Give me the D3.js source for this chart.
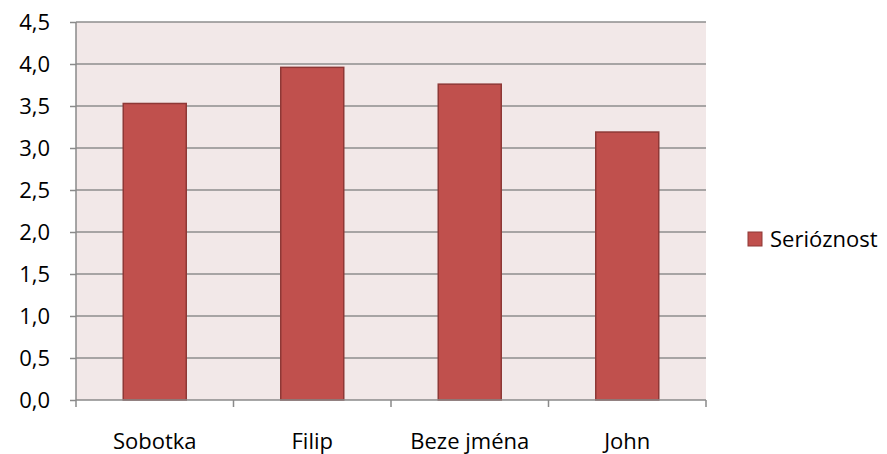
<!DOCTYPE html>
<html><head><meta charset="utf-8">
<script src="https://cdn.jsdelivr.net/npm/d3@7/dist/d3.min.js"></script>
<style>body{margin:0;background:#fff;} svg{display:block;} text{font-family:"Open Sans",sans-serif;fill:#000;}</style>
</head><body>
<svg id="c" width="887" height="454"></svg>
<script>
const categories = ["Sobotka", "Filip", "Beze jména", "John"];
const values = [3.53, 3.96, 3.76, 3.19];
const seriesName = "Serióznost";
const yTicks = [0, 0.5, 1, 1.5, 2, 2.5, 3, 3.5, 4, 4.5];

const svg = d3.select("#c");
const L = 76, R = 706, T = 22, B = 400;
const x = d3.scaleBand().domain(categories).range([L, R]).paddingInner(0.6).paddingOuter(0.3);
const y = d3.scaleLinear().domain([0, 4.5]).range([B, T]);
const fmt = d => d.toFixed(1).replace(".", ",");

svg.append("rect").attr("x", L).attr("y", T).attr("width", R - L).attr("height", B - T).attr("fill", "#f2e8e8");

// gridlines
svg.append("g").selectAll("line").data(yTicks.filter(d => d > 0)).join("line")
  .attr("x1", L).attr("x2", R).attr("y1", d => y(d)).attr("y2", d => y(d))
  .attr("stroke", "#8e8e8e").attr("stroke-width", 1.5);

// bars
svg.append("g").selectAll("rect").data(categories).join("rect")
  .attr("x", d => x(d)).attr("width", x.bandwidth())
  .attr("y", (d, i) => y(values[i])).attr("height", (d, i) => B - y(values[i]))
  .attr("fill", "#c0504d").attr("stroke", "#8e3836").attr("stroke-width", 1.5);

// y axis
const ya = svg.append("g").attr("transform", `translate(${L},0)`)
  .call(d3.axisLeft(y).tickValues(yTicks).tickFormat(fmt).tickSize(6).tickPadding(20));
ya.select(".domain").attr("stroke", "#8a8a8a").attr("stroke-width", 1.5).attr("d", `M0,${T}V${B}`);
ya.selectAll(".tick line").attr("stroke", "#8a8a8a").attr("stroke-width", 1.5);
ya.selectAll(".tick text").attr("font-size", 22).attr("font-family", "Open Sans").attr("fill", "#000");

// x axis
const xa = svg.append("g").attr("transform", `translate(0,${B})`);
xa.append("line").attr("x1", L).attr("x2", R).attr("stroke", "#8a8a8a").attr("stroke-width", 1.5);
const step = x.step();
const bounds = d3.range(categories.length + 1).map(i => L + i * step);
xa.selectAll(".tk").data(bounds).join("line").attr("class", "tk")
  .attr("x1", d => d).attr("x2", d => d).attr("y1", 0).attr("y2", 7)
  .attr("stroke", "#8a8a8a").attr("stroke-width", 1.5);
xa.selectAll("text").data(categories).join("text")
  .attr("x", d => x(d) + x.bandwidth() / 2).attr("y", 49)
  .attr("text-anchor", "middle").attr("font-size", 22).text(d => d);

// legend
const lg = svg.append("g").attr("transform", "translate(748,232)");
lg.append("rect").attr("width", 14).attr("height", 14).attr("fill", "#c0504d").attr("stroke", "#8e3836").attr("stroke-width", 1);
lg.append("text").attr("x", 22).attr("y", 7).attr("dy", "0.36em").attr("font-size", 22).text(seriesName);
</script>
</body></html>
